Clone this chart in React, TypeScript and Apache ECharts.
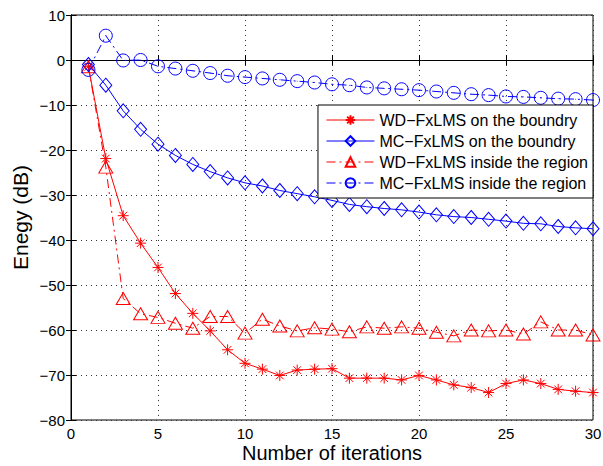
import React, { useEffect, useRef } from "react";
import * as echarts from "echarts";

const iterations = [1,2,3,4,5,6,7,8,9,10,11,12,13,14,15,16,17,18,19,20,21,22,23,24,25,26,27,28,29,30];
const wdBoundary = [-1.5,-21.9,-34.6,-40.7,-46.1,-51.9,-56.3,-60.2,-64.4,-67.4,-68.7,-70.1,-68.9,-68.7,-68.6,-70.7,-70.7,-70.7,-71.1,-70.1,-71.1,-72.2,-72.8,-73.9,-71.9,-71.1,-71.9,-73.2,-73.6,-73.9];
const mcBoundary = [-1.0,-5.6,-11.3,-15.4,-18.7,-21.2,-23.2,-24.8,-26.2,-27.3,-28.0,-29.0,-29.7,-30.4,-31.2,-32.1,-32.6,-33.0,-33.3,-33.8,-34.4,-34.8,-35.0,-35.4,-35.8,-36.3,-36.4,-37.0,-37.3,-37.5];
const wdInside = [-1.5,-23.8,-53.0,-56.4,-57.2,-58.5,-59.6,-57.0,-57.0,-60.7,-57.6,-59.1,-60.2,-59.5,-59.8,-60.4,-59.3,-59.6,-59.3,-59.6,-60.5,-61.3,-60.0,-60.2,-60.0,-60.9,-58.2,-60.0,-60.0,-61.1];
const mcInside = [-2.2,5.4,-0.1,0.0,-1.4,-1.9,-2.4,-2.9,-3.5,-3.8,-4.1,-4.4,-4.7,-5.0,-5.4,-5.6,-6.1,-6.3,-6.5,-6.7,-7.0,-7.3,-7.6,-7.8,-8.1,-8.2,-8.4,-8.6,-8.7,-8.9];

const seriesNames = [
  "WD\u2212FxLMS on the boundry",
  "MC\u2212FxLMS on the boundry",
  "WD\u2212FxLMS inside the region",
  "MC\u2212FxLMS inside the region",
];
const xTicks = { min: 0, max: 30, interval: 5 };
const yTicks = { min: -80, max: 10, interval: 10 };

const RED = "#ff0000";
const BLUE = "#0000ff";
const STAR = "path://M10,0 L10,20 M0,10 L20,10 M3,3 L17,17 M3,17 L17,3";
const DIAMOND = "path://M10,0 L20,10 L10,20 L0,10 Z";
const TRIANGLE = "path://M10,0 L20,18 L0,18 Z";
const CIRCLE = "path://M10,0 A10,10 0 1,1 9.99,0 Z M10,9.5 L10,10.5";
const DASHDOT = [9, 4, 2, 4];

function pairs(vals: number[]) {
  return iterations.map((x, i) => [x, vals[i]]);
}

export default function App() {
  const ref = useRef<HTMLDivElement>(null);
  useEffect(() => {
    if (!ref.current) return;
    const chart = echarts.init(ref.current, null, { renderer: "svg" });
    const font = "Liberation Sans, Arial, sans-serif";
    const minus = (v: number) => String(v).replace("-", "\u2212");
    const mk = (name: string, vals: number[], color: string, symbol: string, size: number | number[], dash: any) => ({
      name,
      type: "line",
      data: pairs(vals),
      symbol,
      symbolSize: size,
      showAllSymbol: true,
      lineStyle: { color, width: 1, type: dash },
      itemStyle: { color: "rgba(0,0,0,0)", borderColor: color, borderWidth: 1 },
      emphasis: { disabled: true },
    });
    const mirrorAxis = {
      type: "value",
      axisLine: { show: true, lineStyle: { color: "#000" } },
      axisTick: { show: true, inside: true, length: 5, lineStyle: { color: "#000" } },
      axisLabel: { show: false },
      splitLine: { show: false },
    };
    chart.setOption({
      animation: false,
      backgroundColor: "#ffffff",
      textStyle: { fontFamily: font },
      grid: {
        left: 71, right: 10, top: 15, bottom: 46,
        containLabel: false, outerBoundsMode: "none",
        show: true, borderColor: "#000", borderWidth: 1, backgroundColor: "transparent",
      },
      legend: {
        data: seriesNames,
        orient: "vertical",
        right: 10,
        top: 105,
        padding: [7, 5, 7, 8],
        itemWidth: 48,
        itemHeight: 12,
        itemGap: 5,
        borderColor: "#000",
        borderWidth: 1,
        backgroundColor: "#fff",
        lineStyle: { width: 1 },
        textStyle: { fontSize: 16, color: "#000", fontFamily: font },
      },
      xAxis: [
        {
          type: "value",
          ...xTicks,
          name: "Number of iterations",
          nameLocation: "middle",
          nameGap: 23,
          nameMoveOverlap: false,
          nameTextStyle: { fontSize: 20, lineHeight: 20, color: "#000", fontFamily: font },
          axisLine: { lineStyle: { color: "#000" } },
          axisTick: { inside: true, length: 5, lineStyle: { color: "#000" } },
          axisLabel: { fontSize: 15, color: "#000", margin: 6, formatter: minus },
          splitLine: { show: true, lineStyle: { type: [1, 4], color: "#333" } },
        },
        { ...mirrorAxis, ...xTicks, position: "top" },
      ],
      yAxis: [
        {
          type: "value",
          ...yTicks,
          name: "Enegy (dB)",
          nameLocation: "middle",
          nameGap: 40,
          nameMoveOverlap: false,
          nameTextStyle: { fontSize: 21, color: "#000", fontFamily: font },
          axisLine: { show: true, lineStyle: { color: "#000" } },
          axisTick: { show: true, inside: true, length: 5, lineStyle: { color: "#000" } },
          axisLabel: { fontSize: 15, color: "#000", margin: 6, formatter: minus },
          splitLine: { show: true, lineStyle: { type: [1, 4], color: "#333" } },
        },
        { ...mirrorAxis, ...yTicks, position: "right" },
      ],
      series: [
        mk(seriesNames[0], wdBoundary, RED, STAR, 11, "solid"),
        mk(seriesNames[1], mcBoundary, BLUE, DIAMOND, [12, 14], "solid"),
        mk(seriesNames[2], wdInside, RED, TRIANGLE, [14, 12], DASHDOT),
        mk(seriesNames[3], mcInside, BLUE, CIRCLE, 13, DASHDOT),
      ],
    });
    return () => chart.dispose();
  }, []);
  return <div ref={ref} style={{ width: 603, height: 466, position: "absolute", left: 0, top: 0 }} />;
}
